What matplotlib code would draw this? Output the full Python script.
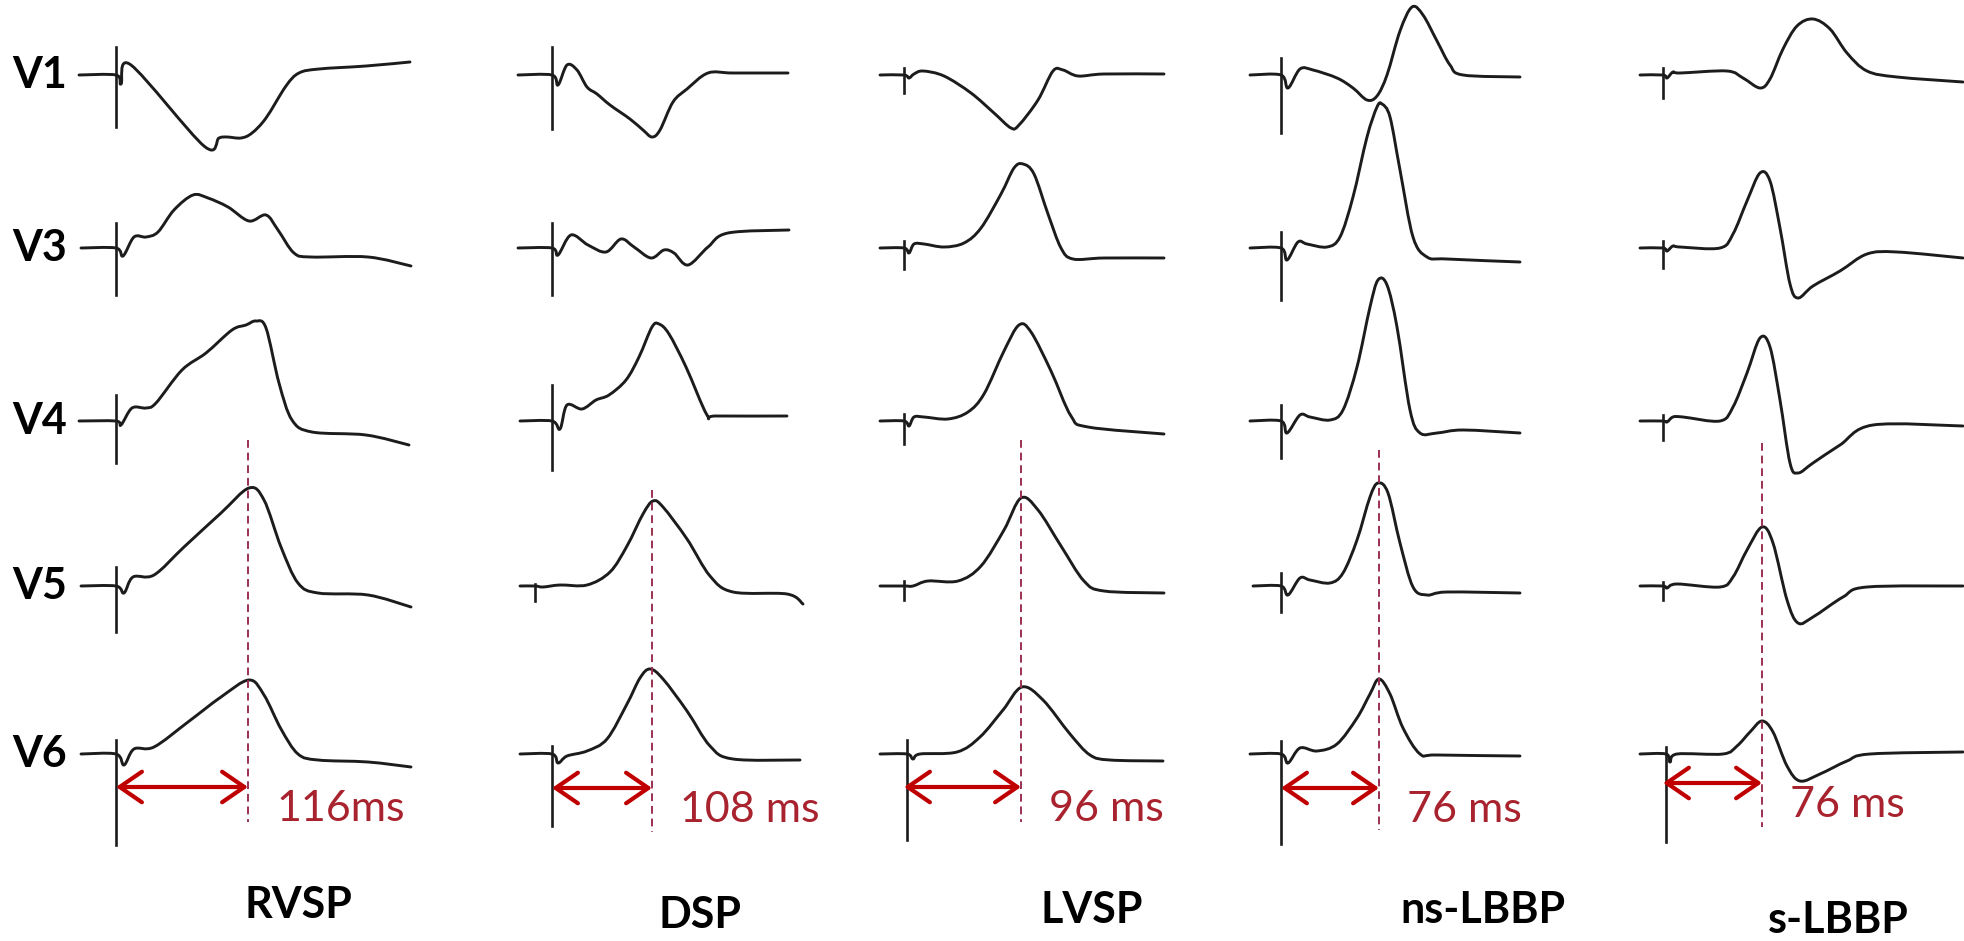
import matplotlib.pyplot as plt
from matplotlib.path import Path
from matplotlib.patches import PathPatch

# lead names and row baselines (pixel rows of the figure)
leads = ['V1', 'V3', 'V4', 'V5', 'V6']
row_y = [75, 248, 421, 586, 754]

# pacing modes (columns)
modes = ['RVSP', 'DSP', 'LVSP', 'ns-LBBP', 's-LBBP']
col_x = [116, 552, 904, 1281, 1663]
label_x = [298, 700, 1092, 1483, 1838]
label_y = [905, 915, 910, 910, 920]

# time from spike to V6 peak
delay_txt = ['116ms', '108 ms', '96 ms', '76 ms', '76 ms']
delay_t = [132, 100, 117, 98, 99]

# spike of each trace: (time, up, down), one per lead
rvsp_spike = [(0, 28, -52), (0, 25, -47), (0, 26, -42), (0, 19, -46), (0, 14, -91)]
dsp_spike = [(0, 28, -54), (0, 25, -47), (0, 36, -49), (-17, 2, -15), (0, 8, -72)]
lvsp_spike = [(0, 7, -18), (0, 7, -21), (0, 7, -23), (0, 5, -14), (3, 14, -86)]
ns_spike = [(0, 17, -58), (0, 16, -52), (0, 16, -37), (0, 13, -26), (0, 13, -90)]
s_spike = [(0, 7, -23), (0, 7, -20), (0, 6, -19), (0, 4, -14), (3, 7, -88)]

# traces: (time, amplitude), amplitude positive up
rvsp_v1 = [(-37, 0), (0, 0), (5, -9), (15, 10), (88, -71), (103, -63), (111, -62), (125, -63),
           (136, -58), (150, -43), (170, -11), (183, 2), (203, 6), (250, 9), (294, 13)]
rvsp_v3 = [(-35, 0), (0, 0), (7, -8), (18, 11), (30, 11), (42, 16), (58, 38), (77, 53), (92, 50),
           (112, 41), (133, 27), (150, 33), (162, 18), (178, -5), (195, -9), (252, -9), (295, -18)]
rvsp_v4 = [(-37, 0), (0, 0), (5, -4), (16, 13), (30, 13), (40, 18), (66, 51), (90, 68), (116, 91),
           (130, 96), (140, 100), (150, 93), (163, 38), (176, 1), (196, -11), (250, -14), (293, -24)]
rvsp_v5 = [(-35, 0), (0, 0), (8, -7), (17, 9), (38, 11), (68, 39), (105, 73), (133, 98), (148, 86),
           (165, 39), (182, 3), (202, -7), (252, -9), (295, -21)]
rvsp_v6 = [(-35, 0), (0, 0), (8, -11), (18, 5), (38, 7), (72, 32), (105, 57), (133, 74), (148, 59),
           (165, 25), (182, 0), (202, -6), (252, -8), (295, -13)]

dsp_v1 = [(-34, 0), (0, 0), (6, -10), (15, 10), (25, 5), (35, -12), (45, -19), (58, -30), (78, -44),
          (91, -55), (100, -62), (108, -55), (121, -27), (135, -14), (156, 2), (181, 2), (236, 2)]
dsp_v3 = [(-34, 0), (0, 0), (6, -7), (19, 13), (36, 3), (54, -4), (69, 9), (82, 1), (99, -10),
          (112, -2), (122, -5), (136, -17), (156, 1), (176, 15), (237, 18)]
dsp_v4 = [(-32, 0), (0, 0), (8, -8), (15, 16), (30, 12), (44, 21), (57, 26), (74, 41), (87, 64),
          (100, 94), (107, 97), (117, 87), (134, 54), (155, 6), (164, 5), (235, 5)]
dsp_v5 = [(-32, 0), (-17, 0), (-9, -1), (8, 1), (35, 1), (58, 14), (75, 40), (91, 72), (101, 85),
          (111, 79), (135, 47), (158, 10), (181, -6), (235, -8), (251, -18)]
dsp_v6 = [(-32, 0), (0, 0), (6, -9), (15, -2), (35, 3), (55, 15), (75, 50), (88, 76), (98, 85),
          (111, 75), (135, 43), (158, 8), (181, -5), (248, -6)]

lvsp_v1 = [(-24, 0), (0, 0), (5, -3), (10, 1), (19, 4), (40, -1), (67, -18), (90, -38), (107, -53),
           (115, -50), (134, -25), (149, 4), (159, 5), (174, -1), (200, 1), (260, 1)]
lvsp_v3 = [(-24, 0), (0, 0), (5, -5), (10, 4), (20, 4), (40, 1), (60, 5), (77, 20), (97, 54),
           (110, 80), (119, 84), (130, 74), (144, 34), (157, 0), (169, -11), (200, -10), (260, -10)]
lvsp_v4 = [(-24, 0), (0, 0), (5, -5), (10, 4), (20, 4), (44, 2), (64, 9), (80, 27), (100, 70),
           (115, 96), (127, 89), (147, 50), (167, 5), (184, -6), (260, -13)]
lvsp_v5 = [(-24, 0), (0, 0), (9, 0), (24, 5), (54, 5), (77, 20), (100, 56), (117, 88), (134, 76),
           (157, 40), (180, 5), (200, -5), (260, -7)]
lvsp_v6 = [(-24, 0), (3, 0), (9, -5), (16, 0), (53, 2), (76, 17), (99, 44), (118, 67), (139, 54),
           (166, 20), (186, -1), (206, -6), (259, -7)]

ns_v1 = [(-31, 0), (0, 0), (7, -13), (19, 6), (32, 5), (56, -3), (72, -13), (86, -25), (96, -21),
         (106, 0), (119, 44), (131, 68), (142, 60), (156, 34), (169, 10), (182, 0), (239, -2)]
ns_v3 = [(-31, 0), (0, 0), (6, -12), (17, 6), (26, 4), (46, 1), (59, 11), (72, 51), (86, 111),
         (96, 141), (101, 144), (109, 131), (119, 78), (132, 11), (146, -9), (166, -11), (239, -14)]
ns_v4 = [(-31, 0), (0, 0), (6, -12), (19, 6), (29, 4), (49, 1), (62, 11), (76, 54), (89, 114),
         (97, 141), (106, 136), (116, 94), (129, 11), (139, -12), (156, -12), (182, -9), (239, -12)]
ns_v5 = [(-28, 0), (0, 0), (7, -9), (19, 8), (29, 6), (49, 3), (62, 13), (76, 46), (89, 89),
         (97, 103), (107, 93), (119, 43), (132, -1), (146, -9), (166, -6), (239, -7)]
ns_v6 = [(-31, 0), (0, 0), (7, -9), (19, 6), (36, 3), (56, 10), (76, 36), (89, 60), (98, 75),
         (109, 60), (122, 26), (139, 0), (156, -1), (239, -2)]

s_v1 = [(-23, 0), (0, 0), (4, -3), (10, 3), (17, 2), (64, 4), (80, -3), (97, -13), (107, -4),
        (120, 26), (134, 49), (150, 56), (167, 46), (184, 22), (204, 4), (234, -2), (300, -7)]
s_v3 = [(-23, 0), (0, 0), (4, -3), (10, 2), (17, 1), (57, 0), (70, 14), (84, 47), (97, 75),
        (107, 67), (117, 20), (127, -36), (135, -50), (150, -38), (177, -23), (204, -6), (234, -4), (300, -10)]
s_v4 = [(-23, 0), (0, 0), (4, -1), (10, 4), (20, 4), (57, 0), (70, 14), (84, 48), (97, 83),
        (107, 74), (117, 21), (127, -42), (135, -52), (150, -42), (177, -24), (210, -4), (300, -5)]
s_v5 = [(-23, 0), (0, 0), (4, -2), (14, 2), (57, -1), (70, 9), (84, 36), (99, 59), (110, 43),
        (124, -14), (135, -37), (150, -31), (180, -11), (204, -1), (300, 0)]
s_v6 = [(-23, 0), (3, 0), (7, -8), (14, 0), (60, 0), (74, 8), (87, 22), (99, 33), (110, 22),
        (124, -12), (137, -27), (157, -20), (184, -7), (207, 0), (300, 2)]

traces = [[rvsp_v1, rvsp_v3, rvsp_v4, rvsp_v5, rvsp_v6],
          [dsp_v1, dsp_v3, dsp_v4, dsp_v5, dsp_v6],
          [lvsp_v1, lvsp_v3, lvsp_v4, lvsp_v5, lvsp_v6],
          [ns_v1, ns_v3, ns_v4, ns_v5, ns_v6],
          [s_v1, s_v3, s_v4, s_v5, s_v6]]
spikes = [rvsp_spike, dsp_spike, lvsp_spike, ns_spike, s_spike]

# dashed marker extent and arrow row
dash_top = [440, 490, 440, 450, 443]
dash_bot = [822, 832, 822, 830, 827]
arrow_y = [787, 788, 787, 788, 783]

ink = '#1c1c1c'
red = '#c00000'
txt_red = '#a8232e'
dash_col = '#9b3050'


def smooth_path(xs, ys):
    # cubic bezier through every read point (catmull-rom tangents)
    verts = [(xs[0], ys[0])]
    codes = [Path.MOVETO]
    n = len(xs)
    for i in range(n - 1):
        i0 = max(i - 1, 0)
        i3 = min(i + 2, n - 1)
        c1 = (xs[i] + (xs[i + 1] - xs[i0]) / 6, ys[i] + (ys[i + 1] - ys[i0]) / 6)
        c2 = (xs[i + 1] - (xs[i3] - xs[i]) / 6, ys[i + 1] - (ys[i3] - ys[i]) / 6)
        verts += [c1, c2, (xs[i + 1], ys[i + 1])]
        codes += [Path.CURVE4] * 3
    return Path(verts, codes)


fig = plt.figure(figsize=(19.64, 9.41), dpi=100)
ax = fig.add_axes([0, 0, 1, 1])
ax.set_xlim(0, 1964)
ax.set_ylim(941, 0)
ax.axis('off')

#lead labels
for name, y in zip(leads, row_y):
    ax.text(40, y, name, fontsize=31, fontweight='bold', family='Lato',
            ha='center', va='center', color='black')

for c in range(len(modes)):
    x0 = col_x[c]
    for r in range(len(leads)):
        y0 = row_y[r]
        tr = traces[c][r]
        xs = [x0 + t for t, v in tr]
        ys = [y0 - v for t, v in tr]
        ax.add_patch(PathPatch(smooth_path(xs, ys), fill=False, edgecolor=ink, lw=2.1,
                               joinstyle='round', capstyle='round'))
        st, up, dn = spikes[c][r]
        ax.plot([x0 + st, x0 + st], [y0 - up, y0 - dn], color=ink, lw=1.9)

    # dashed line through V5/V6 peaks
    xd = x0 + delay_t[c]
    ax.plot([xd, xd], [dash_top[c], dash_bot[c]], color=dash_col, lw=1.4, ls=(0, (4, 2.5)))

    # double arrow spike -> peak
    ax.annotate('', xy=(xd, arrow_y[c]), xytext=(x0, arrow_y[c]),
                arrowprops=dict(arrowstyle='<->,head_length=0.8,head_width=0.55', color=red,
                                lw=3, shrinkA=0, shrinkB=0, mutation_scale=20))
    ax.text(xd + 28, arrow_y[c] + 22, delay_txt[c], fontsize=31, family='Lato',
            color=txt_red, ha='left', va='center')

    ax.text(label_x[c], label_y[c], modes[c], fontsize=31, fontweight='bold', family='Lato',
            ha='center', va='center', color='black')

plt.savefig('out.png', dpi=100)
